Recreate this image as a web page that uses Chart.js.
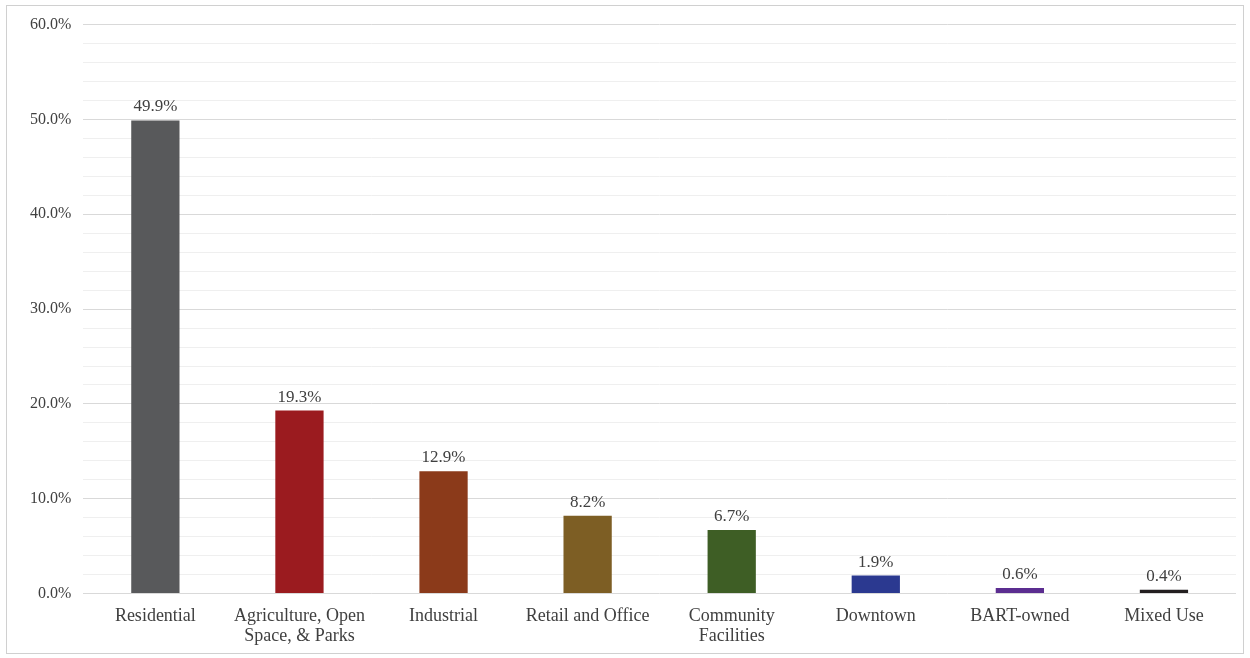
<!DOCTYPE html>
<html><head><meta charset="utf-8">
<script src="https://cdn.jsdelivr.net/npm/chart.js@4"></script>
<style>
html,body{margin:0;padding:0;background:#fff;}
#frame{position:absolute;left:6px;top:5px;width:1238px;height:649px;border:1px solid #d0d0d0;box-sizing:border-box;}
#wrap{position:absolute;left:0;top:3px;width:1250px;height:655px;}
</style></head>
<body>
<div id="frame"></div>
<div id="wrap"><canvas id="c"></canvas></div>
<script>
const categories = ['Residential', ['Agriculture, Open','Space, & Parks'], 'Industrial', 'Retail and Office', ['Community','Facilities'], 'Downtown', 'BART-owned', 'Mixed Use'];
const values = [49.9, 19.3, 12.9, 8.2, 6.7, 1.9, 0.6, 0.4];
const colors = ['#58595b', '#9b1b1f', '#8b3a1a', '#7d5e24', '#3e5e25', '#2b3990', '#5b2d90', '#231f20'];
const yMin = 0, yMax = 60, yStep = 2, yLabelStep = 10;

const labelPlugin = {
  id: 'vlabels',
  afterDatasetsDraw(chart) {
    const ctx = chart.ctx;
    const meta = chart.getDatasetMeta(0);
    ctx.save();
    ctx.font = '17px "Liberation Serif"';
    ctx.fillStyle = '#404040';
    ctx.textAlign = 'center';
    ctx.textBaseline = 'bottom';
    meta.data.forEach((bar, i) => {
      ctx.fillText(values[i].toFixed(1) + '%', bar.x, bar.y - 5);
    });
    ctx.restore();
  }
};

new Chart(document.getElementById('c'), {
  type: 'bar',
  data: { labels: categories, datasets: [{ data: values, backgroundColor: colors, barPercentage: 0.335, categoryPercentage: 1.0 }] },
  options: {
    responsive: true, maintainAspectRatio: false, animation: false,
    layout: { padding: { top: 12, left: 18, right: 14, bottom: 7 } },
    plugins: { legend: { display: false }, tooltip: { enabled: false } },
    scales: {
      x: {
        grid: { display: false },
        border: { display: false },
        ticks: { color: '#404040', font: { family: 'Liberation Serif', size: 18, lineHeight: 1.15 }, maxRotation: 0, autoSkip: false, padding: 4 }
      },
      y: {
        min: yMin, max: yMax,
        border: { display: false },
        grid: {
          color: ctx => (ctx.tick && ctx.tick.value % yLabelStep === 0) ? '#d9d9d9' : '#efefef',
          lineWidth: 1, drawTicks: false
        },
        ticks: {
          stepSize: yStep, autoSkip: false, padding: 12,
          color: '#404040', font: { family: 'Liberation Serif', size: 16 },
          callback: v => (v % yLabelStep === 0) ? v.toFixed(1) + '%' : ''
        }
      }
    }
  },
  plugins: [labelPlugin]
});
</script>
</body></html>
